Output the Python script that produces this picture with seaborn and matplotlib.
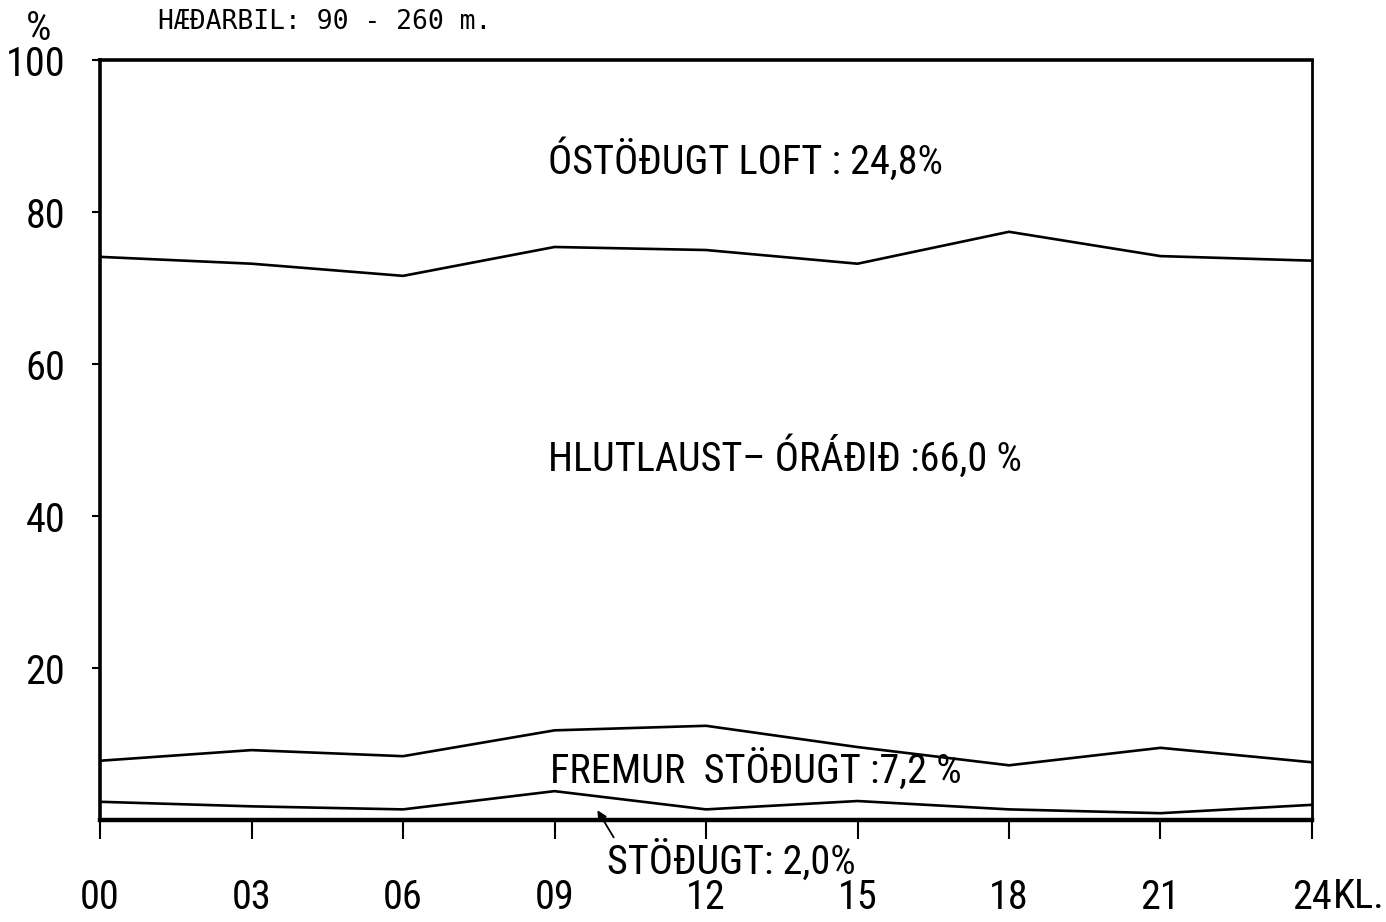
import matplotlib
matplotlib.use("Agg")
import matplotlib.pyplot as plt
import seaborn as sns
import pandas as pd

# Hours of the day (KL.) and boundaries between stability classes (%)
hours = [0, 3, 6, 9, 12, 15, 18, 21, 24]
hour_labels = ["00", "03", "06", "09", "12", "15", "18", "21", "24"]
upper_bound = [74.1, 73.2, 71.6, 75.4, 75.0, 73.2, 77.4, 74.2, 73.6]   # hlutlaust / óstöðugt
middle_bound = [7.8, 9.2, 8.4, 11.8, 12.4, 9.6, 7.2, 9.5, 7.6]          # fremur stöðugt / hlutlaust
lower_bound = [2.4, 1.8, 1.4, 3.8, 1.4, 2.5, 1.4, 0.9, 2.0]             # stöðugt / fremur stöðugt
y_ticks = [20, 40, 60, 80, 100]

sns.set_theme(style="white")
FONT = ["Roboto Condensed", "DejaVu Sans"]
plt.rcParams["font.family"] = FONT
FS = 29

df = pd.DataFrame({
    "kl": hours * 3,
    "pct": upper_bound + middle_bound + lower_bound,
    "mark": ["upper"] * 9 + ["middle"] * 9 + ["lower"] * 9,
})

fig = plt.figure(figsize=(13.86, 9.22), dpi=100)
ax = fig.add_axes([0.0722, 0.1106, 0.8744, 0.8243])

sns.lineplot(data=df, x="kl", y="pct", hue="mark",
             palette={"upper": "black", "middle": "black", "lower": "black"},
             linewidth=1.9, legend=False, ax=ax)

ax.set_xlim(0, 24)
ax.set_ylim(0, 100)
ax.set_xlabel("")
ax.set_ylabel("")

ax.set_xticks(hours)
ax.set_xticklabels(hour_labels)
ax.set_yticks(y_ticks)
ax.set_yticklabels([str(v) for v in y_ticks])
ax.tick_params(axis="x", direction="out", length=14, width=1.5, pad=28,
               labelsize=FS, colors="black", bottom=True)
ax.tick_params(axis="y", direction="out", length=6, width=1.5, pad=19,
               labelsize=FS, colors="black", left=True)

for side, lw in {"left": 2.6, "top": 2.6, "right": 2.0, "bottom": 3.2}.items():
    ax.spines[side].set_visible(True)
    ax.spines[side].set_color("black")
    ax.spines[side].set_linewidth(lw)

txt = dict(fontsize=FS, color="black", family=FONT, va="center", ha="left")
ax.text(8.87, 86.8, "ÓSTÖÐUGT LOFT : 24,8%", **txt)
ax.text(8.87, 47.8, "HLUTLAUST– ÓRÁÐIÐ :66,0 %", **txt)
ax.text(8.91, 6.6, "FREMUR  STÖÐUGT :7,2 %", **txt)
ax.text(10.04, -5.3, "STÖÐUGT: 2,0%", clip_on=False, **txt)
ax.annotate("", xy=(9.82, 1.6), xytext=(10.2, -2.6),
            arrowprops=dict(arrowstyle="-|>", color="black", lw=1.3,
                            mutation_scale=14),
            annotation_clip=False)

# hour unit after the last tick label
ax.text(24.42, -10.1, "KL.", fontsize=FS, color="black", family=FONT,
        va="center", ha="left", clip_on=False)

fig.text(0.028, 0.969, "%", fontsize=FS, color="black", family=FONT,
         ha="center", va="center")
fig.text(0.114, 0.976, "HÆÐARBIL: 90 - 260 m.", fontsize=19, color="black",
         family=["DejaVu Sans Mono"], ha="left", va="center")

fig.savefig("out.png", dpi=100)
